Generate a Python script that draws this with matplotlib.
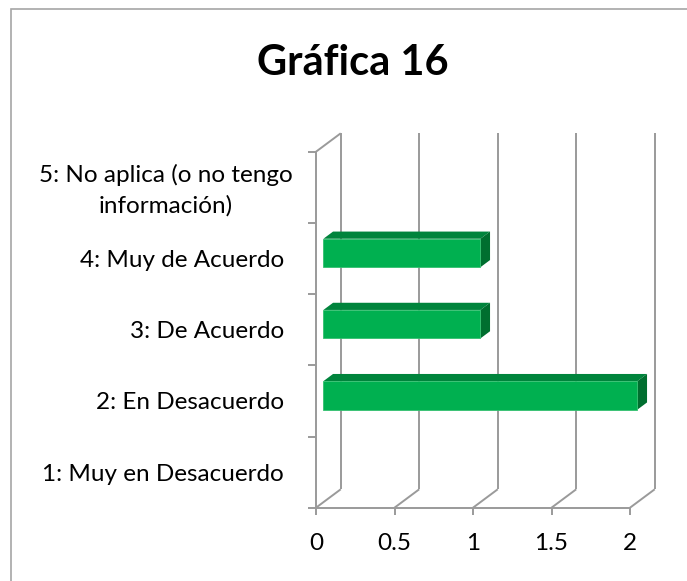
import matplotlib
matplotlib.use("Agg")
import matplotlib.pyplot as plt
from matplotlib.patches import Polygon, Rectangle
from matplotlib.transforms import ScaledTranslation
import numpy as np

# ---- data ----
categories = ["1: Muy en Desacuerdo", "2: En Desacuerdo", "3: De Acuerdo",
              "4: Muy de Acuerdo", "5: No aplica (o no tengo\ninformación)"]
values = [0, 2, 1, 1, 0]
xticks = [0, 0.5, 1, 1.5, 2]
xticklabels = ["0", "0.5", "1", "1.5", "2"]
title = "Gráfica 16"

# ---- style ----
W, H = 687, 581
FONT = "Lato"
GRID = "#9a9a9a"
FRONT = "#00B050"
TOP = "#00843C"
SIDE = "#006E2F"
DDX, DDY = 0.1573, 0.2584      # depth offset (data units)
D0, D1 = 0.30, 0.69            # bar depth range (fraction of depth)
BH = 0.40                      # bar height (category units)
LS = 17.5

plt.rcParams["font.family"] = [FONT, "DejaVu Sans"]
fig = plt.figure(figsize=(W / 100, H / 100), dpi=100)

# frame of chart area
fig.patches.append(Rectangle((11 / W, -0.1), 1.2, 1.1 - 9 / H, transform=fig.transFigure,
                             fill=False, ec="#a6a6a6", lw=1.2))

ncat = len(categories)
xmax = max(xticks)
px_per_x = (630 - 316) / xmax
px_per_y = (507.7 - 151.7) / ncat
left = 316 / W
bottom = (H - 507.7) / H
width = (xmax + DDX) * px_per_x / W
height = (ncat + DDY) * px_per_y / H
ax = fig.add_axes([left, bottom, width, height])
ax.set_xlim(0, xmax + DDX)
ax.set_ylim(0, ncat + DDY)
ax.patch.set_visible(False)

for s in ["top", "right"]:
    ax.spines[s].set_visible(False)
for s in ["left", "bottom"]:
    ax.spines[s].set_color(GRID)
    ax.spines[s].set_linewidth(1.4)
ax.spines["left"].set_bounds(0, ncat)
ax.spines["bottom"].set_bounds(0, xmax)

# back walls / gridlines
lk = dict(color=GRID, lw=1.4, clip_on=False, zorder=1, solid_capstyle="butt")
for t in xticks:
    ax.plot([t + DDX, t + DDX], [DDY, ncat + DDY], **lk)
    ax.plot([t, t + DDX], [0, DDY], **lk)
ax.plot([0, DDX], [ncat, ncat + DDY], **lk)

# bars
for i, v in enumerate(values):
    if v <= 0:
        continue
    c = i + 0.5
    x0 = D0 * DDX
    x1 = v + D0 * DDX
    yb = c - BH / 2 + D0 * DDY
    yt = c + BH / 2 + D0 * DDY
    kx = (D1 - D0) * DDX
    ky = (D1 - D0) * DDY
    ax.add_patch(Polygon([(x0, yt), (x1, yt), (x1 + kx, yt + ky), (x0 + kx, yt + ky)],
                         closed=True, fc=TOP, ec="none", zorder=3, clip_on=False))
    ax.add_patch(Polygon([(x1, yb), (x1, yt), (x1 + kx, yt + ky), (x1 + kx, yb + ky)],
                         closed=True, fc=SIDE, ec="none", zorder=3, clip_on=False))
    ax.add_patch(Rectangle((x0, yb), x1 - x0, yt - yb, fc=FRONT, ec="#33C070", lw=0.6,
                           zorder=4, clip_on=False))

# x ticks
ax.set_xticks(xticks)
ax.set_xticklabels(xticklabels)
ax.tick_params(axis="x", length=5, width=1.4, color=GRID, pad=13, labelsize=LS,
               labelcolor="black")

# y ticks: marks at boundaries (minor), labels at centers (major)
ax.set_yticks(np.arange(ncat) + 0.5)
ax.set_yticklabels(categories)
ax.set_yticks(np.arange(ncat + 1), minor=True)
ax.tick_params(axis="y", which="major", length=0, pad=23, labelsize=LS, labelcolor="black")
ax.tick_params(axis="y", which="minor", length=6, width=1.4, color=GRID)
for lbl in ax.get_yticklabels():
    lbl.set_multialignment("center")
    lbl.set_linespacing(1.55)
    if "\n" in lbl.get_text():
        lbl.set_transform(lbl.get_transform() + ScaledTranslation(9 / 100, 4 / 100, fig.dpi_scale_trans))

fig.text(353 / W, 1 - 75 / H, title, ha="center", va="baseline", fontsize=30,
         fontweight="bold", color="black")

fig.savefig("out.png", dpi=100)
